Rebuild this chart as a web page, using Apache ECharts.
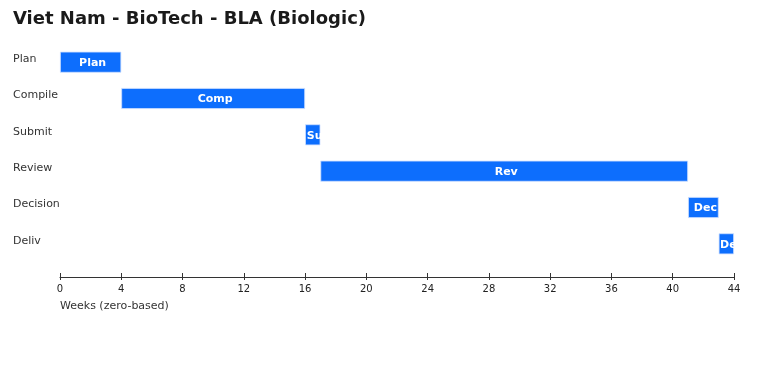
<!DOCTYPE html>
<html><head><meta charset="utf-8">
<script src="https://cdn.jsdelivr.net/npm/echarts@6/dist/echarts.min.js"></script>
<style>html,body{margin:0;padding:0;background:#fff}#c{width:768px;height:384px}</style>
</head><body><div id="c"></div>
<script>
const categories = ["Plan", "Compile", "Submit", "Review", "Decision", "Deliv"];
const starts = [0, 4, 16, 17, 41, 43];
const durations = [4, 12, 1, 24, 2, 1];
const barLabels = ["Plan", "Comp", "Su", "Rev", "Dec", "De"];
const xTicks = [0, 4, 8, 12, 16, 20, 24, 28, 32, 36, 40, 44];

const FONT = "DejaVu Sans";
const chart = echarts.init(document.getElementById('c'));
chart.setOption({
  animation: false,
  backgroundColor: '#ffffff',
  textStyle: { fontFamily: FONT },
  title: {
    text: 'Viet Nam - BioTech - BLA (Biologic)',
    left: 13, top: 10, padding: 0,
    textStyle: { fontFamily: FONT, fontSize: 18, fontWeight: 'bold', color: '#1a1a1a' }
  },
  grid: { left: 60, right: 34, top: 44, height: 218 },
  xAxis: [{
    type: 'value', min: 0, max: 44, interval: 4, offset: 15,
    name: 'Weeks (zero-based)', nameLocation: 'start', nameGap: 0,
    nameTextStyle: { align: 'left', verticalAlign: 'top', padding: [24, 0, 0, 0], fontSize: 11, color: '#333', fontFamily: FONT },
    axisLine: { show: true, lineStyle: { color: '#333', width: 1 } },
    axisTick: { show: true, length: 3, lineStyle: { color: '#333' } },
    axisLabel: { fontSize: 10, color: '#222', margin: 7, fontFamily: FONT,
      formatter: v => xTicks.includes(v) ? String(v) : '' },
    splitLine: { show: false }
  }, {
    type: 'value', min: 0, max: 44, interval: 4, offset: 15, position: 'bottom',
    axisLine: { show: false },
    axisTick: { show: true, inside: true, length: 4, lineStyle: { color: '#333' } },
    axisLabel: { show: false },
    splitLine: { show: false }
  }],
  yAxis: {
    type: 'category', data: categories, inverse: true,
    axisLine: { show: false }, axisTick: { show: false },
    axisLabel: { align: 'left', margin: 47, fontSize: 11, color: '#333', fontFamily: FONT, verticalAlign: 'bottom', lineHeight: 6 }
  },
  series: [
    { type: 'bar', stack: 'g', data: starts, itemStyle: { color: 'transparent' }, barWidth: 21, silent: true },
    { type: 'bar', stack: 'g', data: durations, barWidth: 21,
      itemStyle: { color: '#0d6efd', borderColor: '#cfe0ff', borderWidth: 0.8 },
      label: { show: true, position: 'inside', color: '#fff', fontWeight: 'bold', fontSize: 11, fontFamily: FONT,
        offset: [2, 1],
        formatter: p => barLabels[p.dataIndex] } }
  ]
});
</script></body></html>
